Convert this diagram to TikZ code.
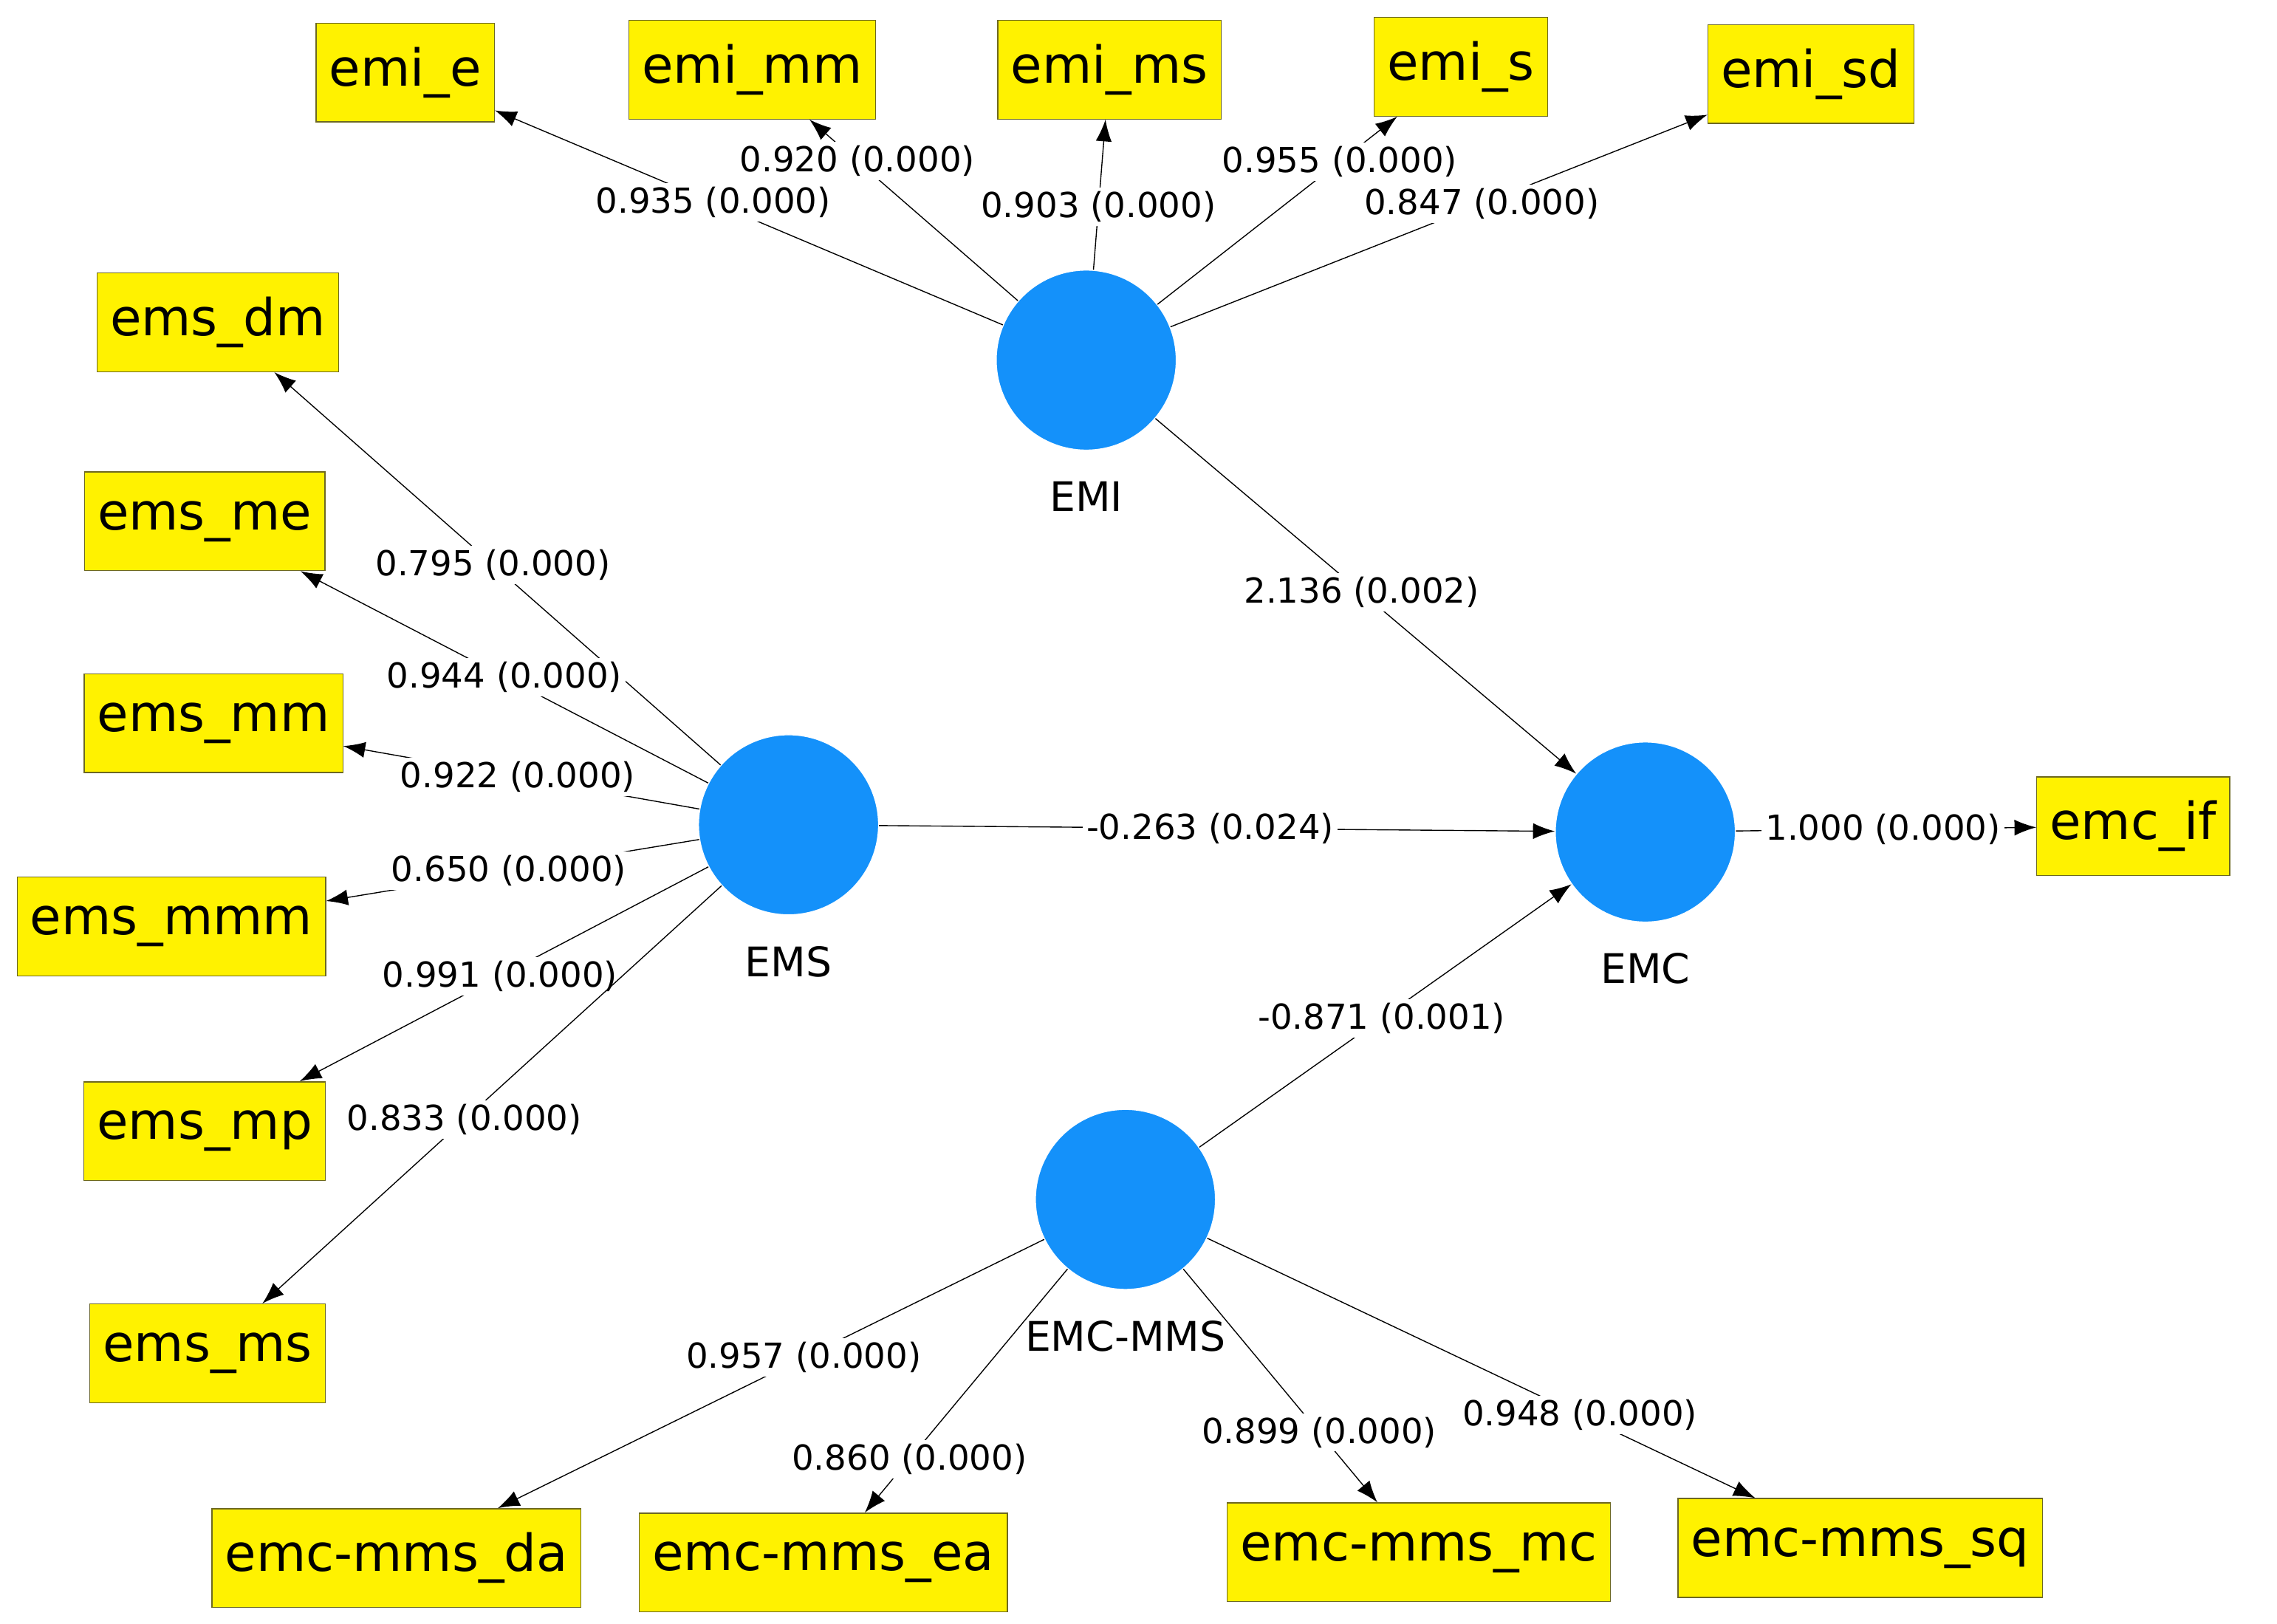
\documentclass[tikz,border=0pt]{standalone}
\usepackage{fontspec}
\setmainfont{DejaVu Sans}
\usetikzlibrary{arrows.meta}
\definecolor{lvblue}{RGB}{20,145,250}
\tikzset{
  ind/.style={draw=olive!70!black, fill=yellow, minimum height=1.36cm, inner xsep=0.18cm,
    font=\fontsize{20}{24}\selectfont},
  lv/.style={circle, fill=lvblue, draw=white, minimum size=2.48cm, inner sep=0pt},
  lvlab/.style={font=\fontsize{16}{19}\selectfont},
  path/.style={-{Latex[length=0.3cm,width=0.22cm]}, thin},
  coef/.style={fill=white, inner sep=1.5pt, font=\fontsize{13.5}{16}\selectfont}
}
\begin{document}
\begin{tikzpicture}[x=0.02cm, y=-0.02cm]
      \useasboundingbox (0,0) rectangle (1568,1118);
      % latent variables
      \node[lv, label={[lvlab, label distance=0.3cm]below:EMI}] (EMI) at (748,248) {};
      \node[lv, label={[lvlab, label distance=0.3cm]below:EMS}] (EMS) at (543,568) {};
      \node[lv, label={[lvlab, label distance=0.3cm]below:EMC}] (EMC) at (1133,573) {};
      \node[lv, label={[lvlab, label distance=0.3cm]below:EMC-MMS}] (EMC-MMS) at (775,826) {};
      % indicators
      \node[ind] (emi_e) at (279,50) {emi\_e};
      \node[ind] (emi_mm) at (518,48) {emi\_mm};
      \node[ind] (emi_ms) at (764,48) {emi\_ms};
      \node[ind] (emi_s) at (1006,46) {emi\_s};
      \node[ind] (emi_sd) at (1247,51) {emi\_sd};
      \node[ind] (ems_dm) at (150,222) {ems\_dm};
      \node[ind] (ems_me) at (141,359) {ems\_me};
      \node[ind] (ems_mm) at (147,498) {ems\_mm};
      \node[ind] (ems_mmm) at (118,638) {ems\_mmm};
      \node[ind] (ems_mp) at (141,779) {ems\_mp};
      \node[ind] (ems_ms) at (143,932) {ems\_ms};
      \node[ind] (emc_if) at (1469,569) {emc\_if};
      \node[ind] (emc-mms_da) at (273,1073) {emc-mms\_da};
      \node[ind] (emc-mms_ea) at (567,1076) {emc-mms\_ea};
      \node[ind] (emc-mms_mc) at (977,1069) {emc-mms\_mc};
      \node[ind] (emc-mms_sq) at (1281,1066) {emc-mms\_sq};

      \draw[path] (EMI) to node[coef, pos=0.57] {0.935 (0.000)} (emi_e);
      \draw[path] (EMI) to node[coef, pos=0.77] {0.920 (0.000)} (emi_mm);
      \draw[path] (EMI) to node[coef, pos=0.42] {0.903 (0.000)} (emi_ms);
      \draw[path] (EMI) to node[coef, pos=0.76] {0.955 (0.000)} (emi_s);
      \draw[path] (EMI) to node[coef, pos=0.58] {0.847 (0.000)} (emi_sd);
      \draw[path] (EMI) to node[coef, pos=0.49] {2.136 (0.002)} (EMC);
      \draw[path] (EMS) to node[coef, pos=0.51] {0.795 (0.000)} (ems_dm);
      \draw[path] (EMS) to node[coef, pos=0.5] {0.944 (0.000)} (ems_me);
      \draw[path] (EMS) to node[coef, pos=0.51] {0.922 (0.000)} (ems_mm);
      \draw[path] (EMS) to node[coef, pos=0.51] {0.650 (0.000)} (ems_mmm);
      \draw[path] (EMS) to node[coef, pos=0.51] {0.991 (0.000)} (ems_mp);
      \draw[path] (EMS) to node[coef, pos=0.56] {0.833 (0.000)} (ems_ms);
      \draw[path] (EMS) to node[coef, pos=0.49] {-0.263 (0.024)} (EMC);
      \draw[path] (EMC) to node[coef, pos=0.49] {1.000 (0.000)} (emc_if);
      \draw[path] (EMC-MMS) to node[coef, pos=0.49] {-0.871 (0.001)} (EMC);
      \draw[path] (EMC-MMS) to node[coef, pos=0.44] {0.957 (0.000)} (emc-mms_da);
      \draw[path] (EMC-MMS) to node[coef, pos=0.78] {0.860 (0.000)} (emc-mms_ea);
      \draw[path] (EMC-MMS) to node[coef, pos=0.7] {0.899 (0.000)} (emc-mms_mc);
      \draw[path] (EMC-MMS) to node[coef, pos=0.68] {0.948 (0.000)} (emc-mms_sq);
\end{tikzpicture}
\end{document}
